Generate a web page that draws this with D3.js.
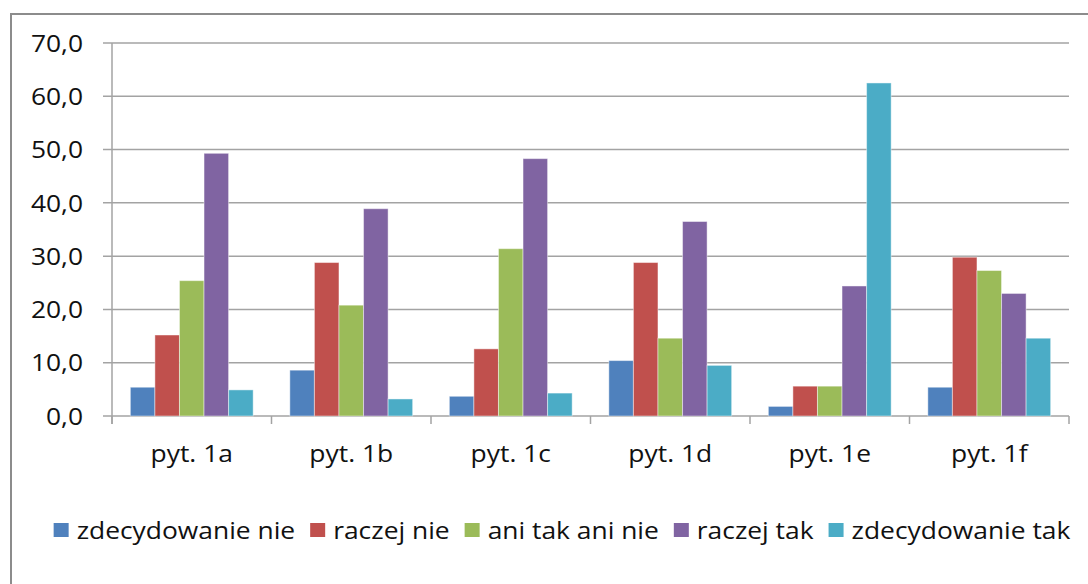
<!DOCTYPE html>
<html><head><meta charset="utf-8">
<script src="https://cdn.jsdelivr.net/npm/d3@7"></script>
<style>body{margin:0;background:#fff}svg{display:block}</style>
</head><body>
<svg id="c" width="1088" height="584"></svg>
<script>
const categories = ["pyt. 1a","pyt. 1b","pyt. 1c","pyt. 1d","pyt. 1e","pyt. 1f"];
const seriesNames = ["zdecydowanie nie","raczej nie","ani tak ani nie","raczej tak","zdecydowanie tak"];
const zdecydowanieNie = [5.4, 8.6, 3.7, 10.4, 1.8, 5.4];
const raczejNie = [15.2, 28.8, 12.6, 28.8, 5.6, 29.8];
const aniTakAniNie = [25.4, 20.8, 31.4, 14.6, 5.6, 27.3];
const raczejTak = [49.3, 38.9, 48.3, 36.5, 24.4, 23.0];
const zdecydowanieTak = [4.9, 3.2, 4.3, 9.5, 62.5, 14.6];
const yTicks = [0,10,20,30,40,50,60,70];
const colors = ["#4F81BD","#C0504D","#9BBB59","#8064A2","#4BACC6"];

(function(){
const seriesValues = [zdecydowanieNie, raczejNie, aniTakAniNie, raczejTak, zdecydowanieTak];
const svg = d3.select("#c");
const font = "'Open Sans', sans-serif";
const SX = 1.1;
const txtColor = "#111";

svg.append("path").attr("d","M11,590 V14 H1100").attr("fill","none").attr("stroke","#8c8c8c").attr("stroke-width",2);

const pL = 112, pR = 1069, pT = 43, pB = 416;
const y = d3.scaleLinear().domain([0,70]).range([pB, pT]);
const x0 = d3.scaleBand().domain(categories).range([pL,pR]).paddingInner(0.23).paddingOuter(0.115);
const x1 = d3.scaleBand().domain(d3.range(seriesNames.length)).range([0, x0.bandwidth()]);

svg.append("g").selectAll("line").data(yTicks).join("line")
  .attr("x1", pL-9).attr("x2", pR)
  .attr("y1", d=>y(d)).attr("y2", d=>y(d))
  .attr("stroke","#a3a3a3").attr("stroke-width",1.5);

svg.append("line").attr("x1",pL).attr("x2",pL).attr("y1",pT).attr("y2",pB+8)
  .attr("stroke","#a3a3a3").attr("stroke-width",1.5);

const bounds = d3.range(categories.length+1).map(i => pL + i*(pR-pL)/categories.length);
svg.append("g").selectAll("line").data(bounds).join("line")
  .attr("x1",d=>d).attr("x2",d=>d).attr("y1",pB).attr("y2",pB+8)
  .attr("stroke","#a3a3a3").attr("stroke-width",1.5);

svg.append("g").selectAll("text").data(yTicks).join("text")
  .attr("transform", d=>`translate(83,${y(d)}) scale(${SX},1)`)
  .attr("dy","0.36em").attr("text-anchor","end")
  .attr("font-family",font).attr("font-size",24).attr("fill",txtColor)
  .text(d=>d.toFixed(1).replace(".",","));

const groups = svg.append("g").selectAll("g").data(categories).join("g")
  .attr("transform", c=>`translate(${x0(c)},0)`);
groups.selectAll("rect").data((c,ci)=>seriesValues.map((s,si)=>({si, v:s[ci]}))).join("rect")
  .attr("x", d=>x1(d.si)).attr("width", x1.bandwidth())
  .attr("y", d=>y(d.v)).attr("height", d=>pB - y(d.v))
  .attr("fill", d=>colors[d.si])
  .attr("stroke","rgba(255,255,255,0.45)").attr("stroke-width",1);

svg.append("g").selectAll("text").data(categories).join("text")
  .attr("transform", c=>`translate(${x0(c)+x0.bandwidth()/2},462) scale(${SX},1)`)
  .attr("text-anchor","middle")
  .attr("font-family",font).attr("font-size",24).attr("fill",txtColor)
  .text(c=>c);

const lg = svg.append("g");
const items = lg.selectAll("g").data(seriesNames).join("g");
items.append("rect").attr("width",15).attr("height",14).attr("y",-7)
  .attr("fill",(d,i)=>colors[i]);
items.append("text").attr("transform",`translate(23,0) scale(${SX},1)`).attr("dy","0.36em")
  .attr("font-family",font).attr("font-size",24).attr("fill",txtColor).text(d=>d);
let pos = 0; const gap = 15; const xs = [];
items.each(function(){
  xs.push(pos);
  const tw = d3.select(this).select("text").node().getComputedTextLength()*SX;
  pos += 23 + tw + gap;
});
const total = pos - gap;
const startX = 562 - total/2;
items.attr("transform",(d,i)=>`translate(${startX+xs[i]},530)`);
})();
</script>
</body></html>
